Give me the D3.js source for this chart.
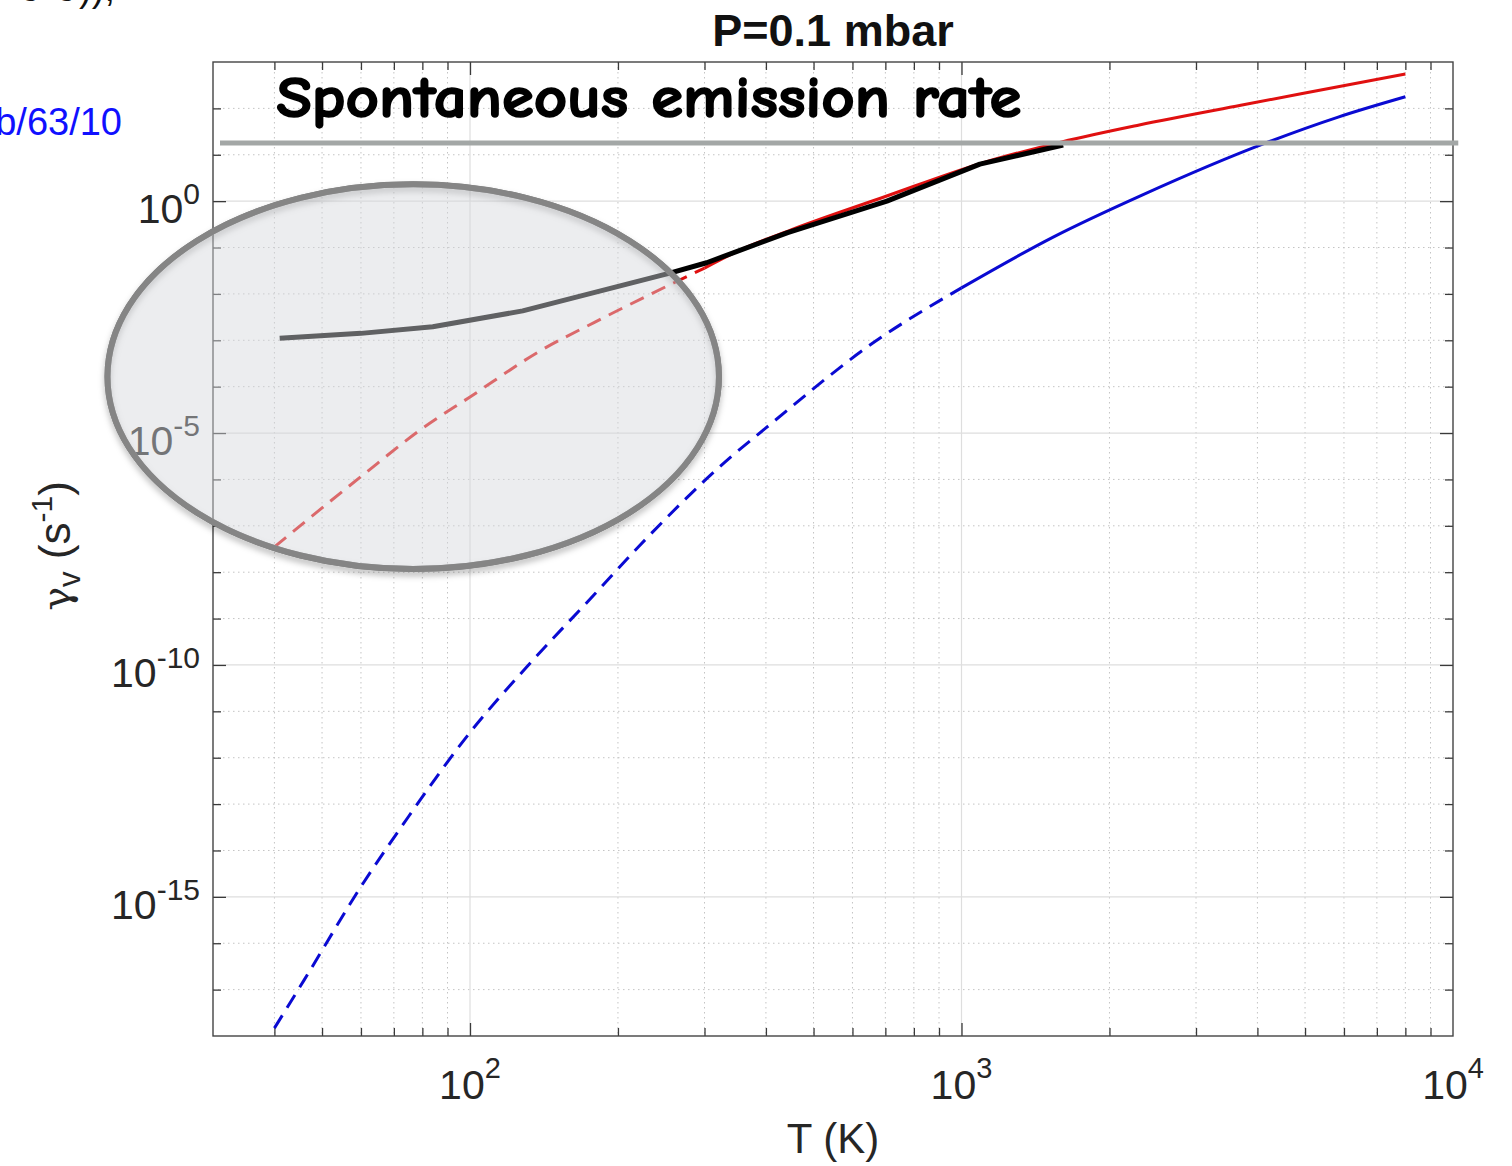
<!DOCTYPE html>
<html>
<head>
<meta charset="utf-8">
<script src="https://cdn.jsdelivr.net/npm/d3@7"></script>
<style>
  body { margin: 0; background: #fff; }
  svg { display: block; font-family: "Liberation Sans", Arial, Helvetica, sans-serif; }
</style>
</head>
<body>
<svg id="chart" width="1512" height="1166"></svg>
<script>
// Values: temperature (K) vs rate gamma_v (s^-1)
const redT = [40, 60, 80, 100, 140, 180, 260, 300, 350, 450, 700, 1100, 1600, 2300, 3700, 5800, 8000];
const redRate = [3.5e-8, 1.15e-6, 1.26e-5, 6.0e-5, 6.2e-4, 2.5e-3, 0.0174, 0.036, 0.083, 0.24, 1.26, 6.6, 19, 44, 117, 288, 550];
const redDashedUpTo = 300;

const blueT = [40, 46, 60, 75, 100, 130, 180, 220, 340, 400, 660, 1000, 1540, 2330, 4150, 5840, 8000];
const blueRate = [1.48e-18, 1.62e-17, 1.66e-15, 5.4e-14, 3.5e-12, 8.7e-11, 3.5e-9, 3.5e-8, 3.1e-6, 1.29e-5, 8.7e-4, 0.0135, 0.17, 1.35, 17.8, 65, 178];
const blueDashedUpTo = 1000;

// hand-drawn black overlay
const blackT = [41, 60, 84, 128, 255, 303, 443, 705, 1090, 1610];
const blackRate = [1.1e-3, 1.41e-3, 1.95e-3, 4.3e-3, 0.028, 0.047, 0.21, 1.0, 6.3, 16.2];

// annotations
const spontaneousRate = 18;
const spontaneousSpanT = [31, 10250];
const ellipseT = [18.3, 321];
const ellipseRate = [1.17e-8, 2.3];

const xDomain = [30, 1e4];
const yDomain = [1e-18, 1e3];
const xLabelExponents = [2, 3, 4];
const yLabelExponents = [-15, -10, -5, 0];

const width = 1512, height = 1166;
const margin = { top: 62, right: 59, bottom: 130, left: 213 };
const innerWidth = width - margin.left - margin.right;
const innerHeight = height - margin.top - margin.bottom;

const svg = d3.select('#chart');

const defs = svg.append('defs');
defs.append('filter')
    .attr('id', 'shadow')
    .attr('x', '-10%').attr('y', '-10%').attr('width', '120%').attr('height', '130%')
    .append('feDropShadow')
    .attr('dx', 0).attr('dy', 4)
    .attr('stdDeviation', 3)
    .attr('flood-color', '#000')
    .attr('flood-opacity', 0.28);

const g = svg.append('g')
    .attr('transform', `translate(${margin.left},${margin.top})`);

const x = d3.scaleLog().domain(xDomain).range([0, innerWidth]);
const y = d3.scaleLog().domain(yDomain).range([innerHeight, 0]);

// tick positions
const xMajor = [100, 1000];
const xMinor = [];
[10, 100, 1000].forEach(dec => {
    for (let k = 2; k <= 9; k++) {
        const v = dec * k;
        if (v > xDomain[0] && v < xDomain[1]) xMinor.push(v);
    }
});
const yDecades = d3.range(-17, 3).map(e => Math.pow(10, e));
const yMajor = yLabelExponents.map(e => Math.pow(10, e));
const yMinor = yDecades.filter(v => !yMajor.includes(v));

// Grid lines
const grid = g.append('g').attr('class', 'grid');
grid.selectAll('.xminor')
    .data(xMinor)
    .join('line')
    .attr('x1', d => x(d)).attr('x2', d => x(d))
    .attr('y1', 0).attr('y2', innerHeight)
    .attr('stroke', '#c4c4c4')
    .attr('stroke-width', 1)
    .attr('stroke-dasharray', '1.5,3.5');
grid.selectAll('.yminor')
    .data(yMinor)
    .join('line')
    .attr('x1', 0).attr('x2', innerWidth)
    .attr('y1', d => y(d)).attr('y2', d => y(d))
    .attr('stroke', '#c4c4c4')
    .attr('stroke-width', 1)
    .attr('stroke-dasharray', '1.5,3.5');
grid.selectAll('.xmajor')
    .data(xMajor)
    .join('line')
    .attr('x1', d => x(d)).attr('x2', d => x(d))
    .attr('y1', 0).attr('y2', innerHeight)
    .attr('stroke', '#dedede')
    .attr('stroke-width', 1.2);
grid.selectAll('.ymajor')
    .data(yMajor)
    .join('line')
    .attr('x1', 0).attr('x2', innerWidth)
    .attr('y1', d => y(d)).attr('y2', d => y(d))
    .attr('stroke', '#dedede')
    .attr('stroke-width', 1.2);

// Axes (ticks point inward, MATLAB box style)
function addTicks(axis, transform) {
    g.append('g')
        .attr('transform', transform)
        .call(axis.tickSizeOuter(0).tickFormat(''))
        .call(s => s.select('.domain').remove())
        .call(s => s.selectAll('text').remove())
        .call(s => s.selectAll('line').attr('stroke', '#3a3a3a').attr('stroke-width', 1.3));
}
addTicks(d3.axisBottom(x).tickValues(xMajor).tickSize(-13), `translate(0,${innerHeight})`);
addTicks(d3.axisBottom(x).tickValues(xMinor).tickSize(-8), `translate(0,${innerHeight})`);
addTicks(d3.axisTop(x).tickValues(xMajor).tickSize(-13), 'translate(0,0)');
addTicks(d3.axisTop(x).tickValues(xMinor).tickSize(-8), 'translate(0,0)');
addTicks(d3.axisLeft(y).tickValues(yMajor).tickSize(-13), 'translate(0,0)');
addTicks(d3.axisLeft(y).tickValues(yMinor).tickSize(-8), 'translate(0,0)');
addTicks(d3.axisRight(y).tickValues(yMajor).tickSize(-13), `translate(${innerWidth},0)`);
addTicks(d3.axisRight(y).tickValues(yMinor).tickSize(-8), `translate(${innerWidth},0)`);

g.append('rect')
    .attr('width', innerWidth)
    .attr('height', innerHeight)
    .attr('fill', 'none')
    .attr('stroke', '#444')
    .attr('stroke-width', 1.4);

// Tick labels with superscripts
const xLabels = g.append('g')
    .selectAll('text')
    .data(xLabelExponents)
    .join('text')
    .attr('x', d => x(Math.pow(10, d)))
    .attr('y', innerHeight + 63)
    .attr('text-anchor', 'middle')
    .attr('fill', '#262626')
    .attr('font-size', 41);
xLabels.append('tspan').text('10');
xLabels.append('tspan').attr('dy', -21).attr('font-size', 29).text(d => d);

const yLabels = g.append('g')
    .selectAll('text')
    .data(yLabelExponents)
    .join('text')
    .attr('x', -13)
    .attr('y', d => y(Math.pow(10, d)) + 22)
    .attr('text-anchor', 'end')
    .attr('fill', '#262626')
    .attr('font-size', 41);
yLabels.append('tspan').text('10');
yLabels.append('tspan').attr('dy', -19).attr('font-size', 30).text(d => d);

// Axis titles
g.append('text')
    .attr('x', innerWidth / 2)
    .attr('y', innerHeight + 117)
    .attr('text-anchor', 'middle')
    .attr('fill', '#262626')
    .attr('font-size', 42)
    .text('T (K)');

const yTitle = g.append('text')
    .attr('transform', `translate(${70 - margin.left},${innerHeight / 2 - 3}) rotate(-90)`)
    .attr('text-anchor', 'middle')
    .attr('fill', '#262626')
    .attr('font-size', 44);
yTitle.append('tspan').attr('font-family', '"DejaVu Serif", serif').attr('font-size', 40).text('γ');
yTitle.append('tspan').attr('dy', 10).attr('font-size', 31).text('v');
yTitle.append('tspan').attr('dy', -10).text(' (s');
yTitle.append('tspan').attr('dy', -18).attr('font-size', 30).text('-1');
yTitle.append('tspan').attr('dy', 18).text(')');

// Curves
const line = d3.line()
    .x(d => x(d[0]))
    .y(d => y(d[1]))
    .curve(d3.curveMonotoneX);

const redPts = d3.zip(redT, redRate);
const bluePts = d3.zip(blueT, blueRate);

function drawSeries(pts, cut, color) {
    g.append('path')
        .datum(pts.filter(d => d[0] <= cut))
        .attr('fill', 'none')
        .attr('stroke', color)
        .attr('stroke-width', 3)
        .attr('stroke-dasharray', '15,9')
        .attr('d', line);
    g.append('path')
        .datum(pts.filter(d => d[0] >= cut))
        .attr('fill', 'none')
        .attr('stroke', color)
        .attr('stroke-width', 3)
        .attr('d', line);
}
drawSeries(redPts, redDashedUpTo, '#e01010');
drawSeries(bluePts, blueDashedUpTo, '#0a0ad2');

g.append('path')
    .datum(d3.zip(blackT, blackRate))
    .attr('fill', 'none')
    .attr('stroke', '#000')
    .attr('stroke-width', 5)
    .attr('stroke-linejoin', 'round')
    .attr('d', d3.line().x(d => x(d[0])).y(d => y(d[1])));

// Spontaneous emission level
g.append('line')
    .attr('x1', x(spontaneousSpanT[0]))
    .attr('x2', x(spontaneousSpanT[1]))
    .attr('y1', y(spontaneousRate))
    .attr('y2', y(spontaneousRate))
    .attr('stroke', '#a3a7a6')
    .attr('stroke-width', 5);

g.append('text')
    .attr('x', x(40) + 2)
    .attr('y', 55)
    .attr('font-family', '"Comic Sans MS", "Comic Neue", "DejaVu Sans", sans-serif')
    .attr('font-weight', 'bold')
    .attr('font-size', 58)
    .attr('textLength', 745)
    .attr('lengthAdjust', 'spacingAndGlyphs')
    .attr('fill', '#000')
    .attr('stroke', '#000')
    .attr('stroke-width', 1.6)
    .text('Spontaneous emission rate');

// Highlight ellipse over the low-temperature region
const ex0 = x(ellipseT[0]), ex1 = x(ellipseT[1]);
const ey0 = y(ellipseRate[1]), ey1 = y(ellipseRate[0]);
g.append('ellipse')
    .attr('cx', (ex0 + ex1) / 2)
    .attr('cy', (ey0 + ey1) / 2)
    .attr('rx', (ex1 - ex0) / 2)
    .attr('ry', (ey1 - ey0) / 2)
    .attr('fill', 'none')
    .attr('stroke', '#808080')
    .attr('stroke-width', 6)
    .attr('filter', 'url(#shadow)');
g.append('ellipse')
    .attr('cx', (ex0 + ex1) / 2)
    .attr('cy', (ey0 + ey1) / 2)
    .attr('rx', (ex1 - ex0) / 2)
    .attr('ry', (ey1 - ey0) / 2)
    .attr('fill', '#d4d7db')
    .attr('fill-opacity', 0.45)
    .attr('stroke', '#858585')
    .attr('stroke-width', 6);

// Title
svg.append('text')
    .attr('x', margin.left + innerWidth / 2)
    .attr('y', 46)
    .attr('text-anchor', 'middle')
    .attr('font-weight', 'bold')
    .attr('font-size', 45)
    .attr('fill', '#111')
    .text('P=0.1 mbar');

// Fragments of surrounding slide text
svg.append('text')
    .attr('x', 122)
    .attr('y', 135)
    .attr('text-anchor', 'end')
    .attr('font-size', 38)
    .attr('fill', '#1010ff')
    .text('b/63/10');
svg.append('text')
    .attr('x', 115)
    .attr('y', 1)
    .attr('text-anchor', 'end')
    .attr('font-size', 38)
    .attr('fill', '#111')
    .text('σ-σ)),');
</script>
</body>
</html>
